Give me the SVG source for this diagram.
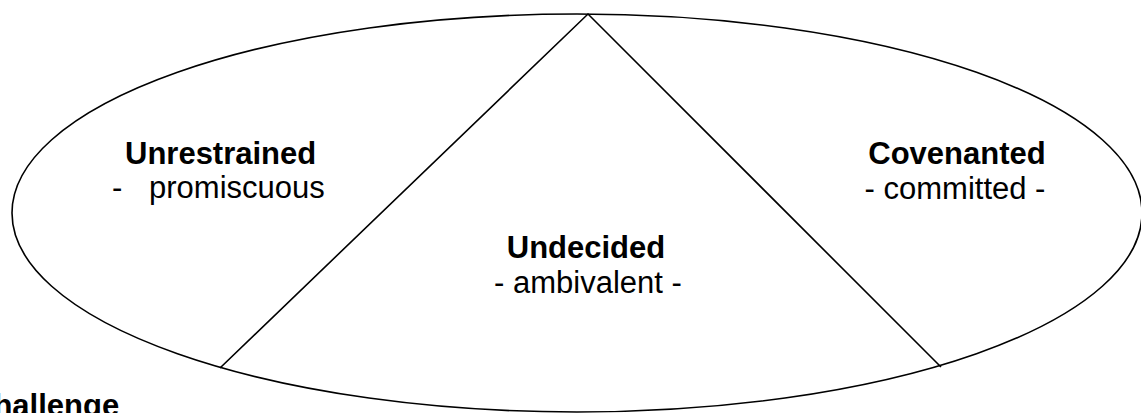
<svg xmlns="http://www.w3.org/2000/svg" width="1141" height="413" viewBox="0 0 1141 413">
<style>
.ln{fill:none;stroke:#000;stroke-width:1.6}
.b{font-family:"Liberation Sans",Arial,sans-serif;font-weight:bold;font-size:31px;fill:#000}
.r{font-family:"Liberation Sans",Arial,sans-serif;font-size:31px;fill:#000}
</style>
<rect width="1141" height="413" fill="#fff"/>
<g id="connectors">
<ellipse class="ln" cx="577" cy="213" rx="565" ry="199"/>
<polyline class="ln" points="220,368 588,14 941,367"/>
</g>
<g id="unrestrained">
<text class="b" x="125" y="164">Unrestrained</text>
<text class="r" x="112" y="198">-</text>
<text class="r" x="149" y="198">promiscuous</text>
</g>
<g id="undecided">
<text class="b" x="586" y="258" text-anchor="middle">Undecided</text>
<text class="r" x="588" y="293" text-anchor="middle">- ambivalent -</text>
</g>
<g id="covenanted">
<text class="b" x="957" y="164" text-anchor="middle">Covenanted</text>
<text class="r" x="955" y="199" text-anchor="middle">- committed -</text>
</g>
<g id="challenge">
<text class="b" x="-29" y="416">Challenge</text>
</g>
</svg>
